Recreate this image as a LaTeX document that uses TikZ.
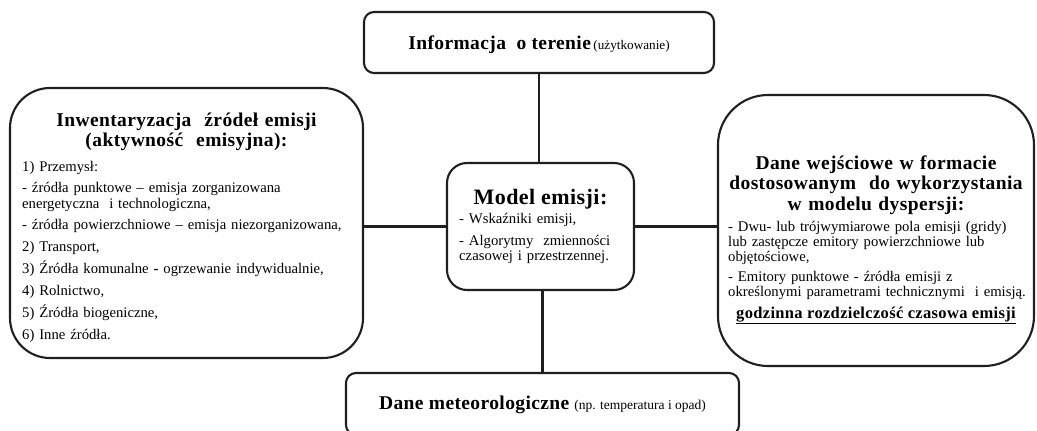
\documentclass[tikz,border=0pt]{standalone}
\usepackage{fontspec}
\setmainfont{Liberation Serif}
\newfontfamily\spacedfont[LetterSpace=2]{Liberation Serif}
\usetikzlibrary{calc}
\tikzset{
  frame/.style={draw=black!88, line width=2.1pt, inner sep=0pt},
  link/.style={draw=black!88, line width=2.1pt},
  ttl/.style={font=\spacedfont\bfseries\fontsize{19.5}{20.5}\selectfont, align=center, inner sep=0pt, text width=335pt},
  body/.style={font=\fontsize{14.7}{15.5}\selectfont, align=left, inner sep=0pt, text width=#1},
}
\begin{document}
\begin{tikzpicture}[x=1pt,y=-1pt]
\useasboundingbox (0,0) rectangle (1037,431);
\clip (0,0) rectangle (1037,431);
% boxes
\node[frame, rounded corners=10pt, minimum width=350pt, minimum height=61pt] (info) at (539,42.5) {};
\node[frame, rounded corners=40pt, minimum width=353pt, minimum height=270pt] (inv) at (186.5,223) {};
\node[frame, rounded corners=20pt, minimum width=187pt, minimum height=127pt] (model) at (540.5,226.5) {};
\node[frame, rounded corners=50pt, minimum width=316pt, minimum height=271pt] (data) at (876,230.5) {};
\node[frame, rounded corners=10pt, minimum width=393pt, minimum height=62pt] (meteo) at (542.5,404) {};
% connectors
\draw[link] (info.south) -- (info.south |- model.north);
\draw[link] (inv.east |- model.west) -- (model.west);
\draw[link] (model.east) -- (data.west |- model.east);
\draw[link] (meteo.north |- model.south) -- (meteo.north);
% top text
\node[anchor=base, inner sep=0pt] (infot) at (539,49) {{\spacedfont\bfseries\fontsize{19.5}{20}\selectfont Informacja~ o terenie} {\fontsize{13.2}{15}\selectfont(użytkowanie)}};
% left box
\node[ttl, anchor=base] (invt) at (186.5,126) {Inwentaryzacja~ źródeł emisji\\(aktywność~ emisyjna):};
\node[body=335pt, anchor=base west] (invb) at (22,171) {1) Przemysł:\\[6pt]
- źródła punktowe – emisja zorganizowana\\
energetyczna~ i technologiczna,\\[6pt]
- źródła powierzchniowe – emisja niezorganizowana,\\[6pt]
2) Transport,\\[6pt]
3) Źródła komunalne \textbf{-} ogrzewanie indywidualnie,\\[6pt]
4) Rolnictwo,\\[6pt]
5) Źródła biogeniczne,\\[6pt]
6) Inne źródła.};
% center box
\node[anchor=base, inner sep=0pt, font=\spacedfont\bfseries\fontsize{22}{23}\selectfont] (modelt) at (540.5,204) {Model emisji:};
\node[body=170pt, anchor=base west] (modelb) at (459,223) {- Wskaźniki emisji,\\[6.5pt]
- Algorytmy~ zmienności\\
czasowej i przestrzennej.};
% right box
\node[ttl, anchor=base] (datat) at (876,169) {Dane wejściowe w formacie\\dostosowanym~ do wykorzystania\\w modelu dyspersji:};
\node[body=305pt, anchor=base west, font=\fontsize{14.7}{15}\selectfont] (datab) at (728,231) {- Dwu- lub trójwymiarowe pola emisji (gridy)\\
lub zastępcze emitory powierzchniowe lub\\
objętościowe,\\[5pt]
- Emitory punktowe - źródła emisji z\\
określonymi parametrami technicznymi~ i emisją.};
\node[anchor=base, inner sep=0pt, font=\spacedfont\bfseries\fontsize{16.5}{18}\selectfont] (datau) at (876,318) {\underline{godzinna rozdzielczość czasowa emisji}};
% bottom text
\node[anchor=base, inner sep=0pt] (meteot) at (542.5,409) {{\spacedfont\bfseries\fontsize{19.5}{20}\selectfont Dane meteorologiczne}~~{\fontsize{13.5}{15}\selectfont(np. temperatura i opad)}};
\end{tikzpicture}
\end{document}
